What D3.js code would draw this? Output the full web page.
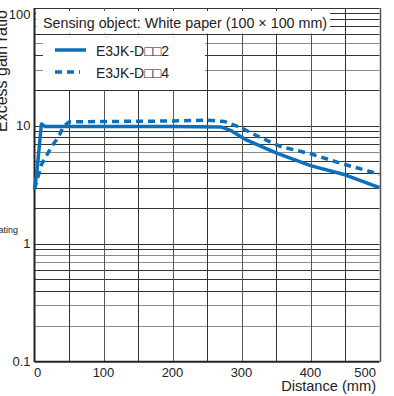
<!DOCTYPE html>
<html>
<head>
<meta charset="utf-8">
<script src="https://cdn.jsdelivr.net/npm/d3@7"></script>
<style>
  body { margin: 0; background: #fff; }
  svg { display: block; font-family: "Liberation Sans", Arial, sans-serif; }
</style>
</head>
<body>
<div id="container"></div>
<script>
/* DATA */
const title = "Sensing object: White paper (100 \u00d7 100 mm)";
const seriesNames = ["E3JK-D\u25a1\u25a12", "E3JK-D\u25a1\u25a14"];
// distance (mm) and excess gain ratio
const solidX = [0, 3, 10, 15, 100, 200, 270, 285, 307, 350, 400, 450, 500];
const solidY = [2.9, 3.8, 10.4, 9.9, 9.9, 9.9, 9.8, 9.1, 7.6, 5.9, 4.6, 3.85, 3.0];
const dashX = [0, 10, 25, 35, 42, 50, 100, 200, 250, 275, 300, 327, 356, 400, 450, 500];
const dashY = [2.9, 4.7, 6.7, 8.1, 9.9, 10.8, 10.9, 11.0, 11.2, 10.9, 9.6, 8.0, 6.7, 5.8, 4.7, 3.9];
const xTicks = [0, 100, 200, 300, 400, 500];
const yTicks = [0.1, 1, 10, 100];
const xGrid = [50, 100, 150, 200, 250, 300, 350, 400, 450, 500];

const width = 394, height = 396,
  margin = { top: 8, right: 14.5, bottom: 34.3, left: 34.5 };
const blue = "#0a70bd";

const svg = d3.select("#container").append("svg")
  .attr("width", width)
  .attr("height", height);

const x = d3.scaleLinear().domain([0, 500]).range([margin.left, width - margin.right]);
const y = d3.scaleLog().domain([0.1, 100]).range([height - margin.bottom, margin.top]);

// horizontal grid: every minor log tick
const yGrid = y.ticks().filter(d => d > 0.1 && d <= 100);
const grayLines = [0.2, 0.3, 0.7, 0.8, 6, 30, 50];
svg.append("g")
  .selectAll("line")
  .data(yGrid)
  .join("line")
  .attr("x1", margin.left)
  .attr("x2", width - margin.right)
  .attr("y1", d => Math.round(y(d)) + 0.5)
  .attr("y2", d => Math.round(y(d)) + 0.5)
  .attr("stroke", d => grayLines.some(g => Math.abs(g - d) < 1e-6) ? "#8a8a8a" : "#333")
  .attr("stroke-width", 1);

svg.append("g")
  .selectAll("line")
  .data(xGrid)
  .join("line")
  .attr("x1", d => Math.round(x(d)) + 0.5)
  .attr("x2", d => Math.round(x(d)) + 0.5)
  .attr("y1", margin.top)
  .attr("y2", height - margin.bottom)
  .attr("stroke", (d, i) => i % 2 ? "#555" : "#333")
  .attr("stroke-width", d => d === 500 ? 1.5 : 1);

// white boxes for title and legend
svg.append("rect")
  .attr("x", margin.left + 1.5).attr("y", 11)
  .attr("width", 294).attr("height", 22.5)
  .attr("fill", "#fff");
svg.append("rect")
  .attr("x", margin.left + 8.5).attr("y", 35)
  .attr("width", 162).attr("height", 55)
  .attr("fill", "#fff");

// axes lines
svg.append("line")
  .attr("x1", margin.left).attr("x2", margin.left)
  .attr("y1", margin.top).attr("y2", height - margin.bottom)
  .attr("stroke", "#222").attr("stroke-width", 2);
svg.append("line")
  .attr("x1", margin.left).attr("x2", width - margin.right)
  .attr("y1", height - margin.bottom).attr("y2", height - margin.bottom)
  .attr("stroke", "#222").attr("stroke-width", 2);

// curves
const line = d3.line().x(d => x(d[0])).y(d => y(d[1]));
svg.append("path")
  .datum(solidX.map((d, i) => [d, solidY[i]]))
  .attr("d", line)
  .attr("fill", "none")
  .attr("stroke", blue)
  .attr("stroke-width", 3.5)
  .attr("stroke-linejoin", "round");
svg.append("path")
  .datum(dashX.map((d, i) => [d, dashY[i]]))
  .attr("d", line)
  .attr("fill", "none")
  .attr("stroke", blue)
  .attr("stroke-width", 3.5)
  .attr("stroke-dasharray", "7,5");

// title + legend
svg.append("text")
  .attr("x", 43).attr("y", 27.5)
  .style("font-size", "14.3px")
  .attr("fill", "#222")
  .text(title);

const legend = svg.append("g");
legend.selectAll("line")
  .data(seriesNames)
  .join("line")
  .attr("x1", 55).attr("x2", (d, i) => i ? 80 : 86)
  .attr("y1", (d, i) => 50 + i * 22).attr("y2", (d, i) => 50 + i * 22)
  .attr("stroke", blue)
  .attr("stroke-width", 3.5)
  .attr("stroke-dasharray", (d, i) => i ? "7,5" : null);
legend.selectAll("text")
  .data(seriesNames)
  .join("text")
  .attr("x", 96)
  .attr("y", (d, i) => 55.5 + i * 22)
  .style("font-size", "14px")
  .attr("fill", "#222")
  .text(d => d);

// tick labels
svg.append("g")
  .selectAll("text")
  .data(yTicks)
  .join("text")
  .attr("x", 30.5)
  .attr("y", d => Math.max(y(d) + 4, 19))
  .attr("text-anchor", "end")
  .style("font-family", "'Liberation Sans Narrow', 'Arial Narrow', 'Liberation Sans', sans-serif")
  .style("font-size", "13px")
  .attr("fill", "#222")
  .text(d => d);

svg.append("g")
  .selectAll("text")
  .data(xTicks)
  .join("text")
  .attr("x", d => d === 500 ? 376 : x(d) + (d === 0 ? 3 : 0))
  .attr("y", 376.5)
  .attr("text-anchor", d => d === 500 ? "end" : "middle")
  .style("font-family", "'Liberation Sans Narrow', 'Arial Narrow', 'Liberation Sans', sans-serif")
  .style("font-size", "13px")
  .attr("fill", "#222")
  .text(d => d);

svg.append("text")
  .attr("x", 376).attr("y", 391)
  .attr("text-anchor", "end")
  .style("font-size", "14.6px")
  .attr("fill", "#222")
  .text("Distance (mm)");

svg.append("text")
  .attr("transform", "translate(6.5,132) rotate(-90)")
  .style("font-size", "16px")
  .attr("fill", "#222")
  .text("Excess gain ratio");

svg.append("text")
  .attr("x", 18).attr("y", 233)
  .attr("text-anchor", "end")
  .style("font-family", "'Liberation Sans Narrow', 'Arial Narrow', 'Liberation Sans', sans-serif")
  .style("font-size", "9px")
  .attr("fill", "#222")
  .text("Operating");
</script>
</body>
</html>
